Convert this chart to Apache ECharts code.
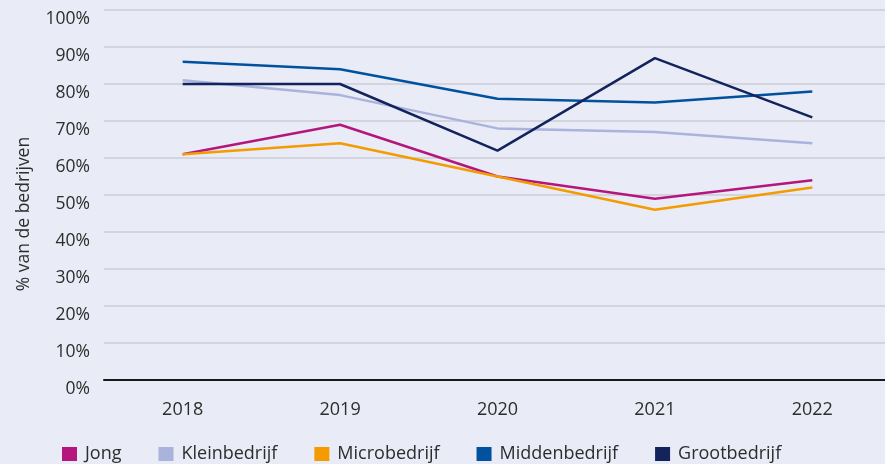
<!DOCTYPE html>
<html>
<head>
<meta charset="utf-8">
<script src="https://cdn.jsdelivr.net/npm/echarts@6/dist/echarts.min.js"></script>
<style>
  html, body { margin: 0; padding: 0; background: #e9ebf6; }
  #chart { width: 885px; height: 464px; }
</style>
</head>
<body>
<div id="chart"></div>
<script>
// jaren op de x-as
const years = ['2018', '2019', '2020', '2021', '2022']

// % van de bedrijven per groep
const jong = [61, 69, 55, 49, 54]
const kleinbedrijf = [81, 77, 68, 67, 64]
const microbedrijf = [61, 64, 55, 46, 52]
const middenbedrijf = [86, 84, 76, 75, 78]
const grootbedrijf = [80, 80, 62, 87, 71]

const seriesNames = ['Jong', 'Kleinbedrijf', 'Microbedrijf', 'Middenbedrijf', 'Grootbedrijf']
const seriesData = [jong, kleinbedrijf, microbedrijf, middenbedrijf, grootbedrijf]
const colors = ['#b5167e', '#a9b3dc', '#f49b00', '#00529f', '#13235b']

const font = '"Open Sans", sans-serif'
const textColor = '#2d2d2d'

const chart = echarts.init(document.getElementById('chart'))

chart.setOption({
  backgroundColor: '#e9ebf6',
  animation: false,
  color: colors,
  grid: {
    left: 104,
    right: -6,
    top: 10,
    bottom: 84,
    outerBoundsMode: 'none',
    containLabel: false
  },
  legend: {
    left: 62,
    top: 445,
    padding: 0,
    itemWidth: 15,
    itemHeight: 14,
    itemGap: 37,
    icon: 'rect',
    textStyle: { fontFamily: font, fontSize: 18, color: textColor, padding: [0, 0, 0, 3] },
    data: seriesNames
  },
  xAxis: {
    type: 'category',
    data: years,
    boundaryGap: true,
    axisLine: { show: true, lineStyle: { color: '#1a1a1a', width: 2 } },
    axisTick: { show: false },
    axisLabel: { margin: 21, fontFamily: font, fontSize: 18, color: textColor }
  },
  yAxis: {
    type: 'value',
    min: 0,
    max: 100,
    interval: 10,
    name: '% van de bedrijven',
    nameLocation: 'middle',
    nameGap: 71,
    nameTextStyle: { fontFamily: font, fontSize: 17.5, color: textColor, padding: [0, 38, 0, 0] },
    axisLine: { show: false },
    axisTick: { show: false },
    splitLine: { lineStyle: { color: '#cdcdd6', width: 1.5 } },
    axisLabel: {
      margin: 14,
      fontFamily: font,
      fontSize: 17.5,
      color: textColor,
      verticalAlign: 'top',
      formatter: v => v + '%'
    }
  },
  series: seriesNames.map((name, i) => ({
    name: name,
    type: 'line',
    data: seriesData[i],
    symbol: 'none',
    lineStyle: { width: 2.5, color: colors[i] }
  }))
})
</script>
</body>
</html>
